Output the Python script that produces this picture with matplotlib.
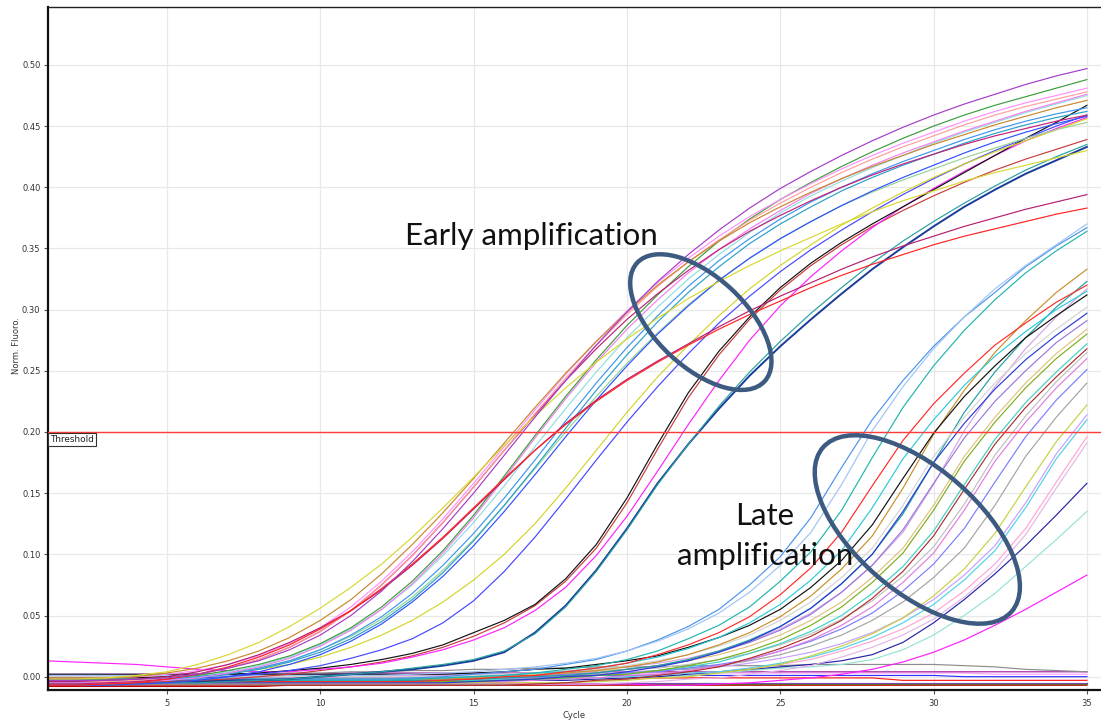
import matplotlib
matplotlib.use("Agg")
import matplotlib.pyplot as plt
from matplotlib.patches import Ellipse
from matplotlib.transforms import IdentityTransform
from matplotlib.ticker import FormatStrFormatter, MultipleLocator

cycles = list(range(1, 36))
threshold = 0.20

# ---- wells amplifying early (normalised fluorescence per cycle 1..35) ----
early_purple = [-0.003,-0.003,-0.003,-0.002,-0.001,0.002,0.007,0.013,0.022,0.034,0.050,0.070,0.094,0.121,0.150,0.181,0.212,0.242,0.271,0.298,0.323,0.345,0.365,0.383,0.399,0.413,0.426,0.438,0.449,0.459,0.468,0.476,0.484,0.491,0.497]
early_green = [-0.002,-0.002,-0.002,-0.002,-0.001,0.001,0.005,0.010,0.017,0.027,0.040,0.057,0.078,0.103,0.132,0.164,0.197,0.229,0.259,0.287,0.312,0.335,0.356,0.374,0.390,0.404,0.417,0.429,0.440,0.450,0.459,0.467,0.474,0.481,0.488]
early_pink = [-0.001,-0.001,-0.001,0.000,0.002,0.005,0.010,0.017,0.027,0.040,0.057,0.078,0.102,0.129,0.158,0.188,0.218,0.247,0.274,0.299,0.322,0.342,0.360,0.376,0.390,0.403,0.415,0.426,0.436,0.445,0.454,0.462,0.469,0.475,0.481]
early_salmon = [-0.004,-0.004,-0.004,-0.003,-0.001,0.002,0.007,0.014,0.024,0.037,0.054,0.075,0.099,0.126,0.155,0.185,0.215,0.244,0.271,0.296,0.319,0.339,0.357,0.373,0.387,0.400,0.412,0.423,0.433,0.442,0.451,0.459,0.466,0.472,0.478]
early_aqua = [-0.002,-0.002,-0.002,-0.002,-0.001,0.001,0.004,0.009,0.016,0.026,0.039,0.055,0.075,0.099,0.126,0.156,0.188,0.219,0.249,0.277,0.302,0.325,0.345,0.363,0.379,0.393,0.405,0.416,0.426,0.436,0.445,0.453,0.461,0.468,0.475]
early_brown = [-0.001,-0.001,-0.001,0.000,0.003,0.007,0.013,0.021,0.032,0.046,0.063,0.084,0.108,0.134,0.162,0.191,0.220,0.248,0.274,0.298,0.320,0.339,0.356,0.371,0.384,0.396,0.407,0.417,0.426,0.435,0.443,0.451,0.458,0.465,0.471]
early_black = [-0.001,-0.001,-0.001,-0.001,0.000,0.001,0.002,0.003,0.005,0.007,0.010,0.014,0.019,0.026,0.036,0.046,0.059,0.080,0.108,0.146,0.190,0.232,0.266,0.294,0.318,0.338,0.355,0.370,0.384,0.398,0.412,0.426,0.440,0.453,0.467]
early_skyblue = [-0.003,-0.003,-0.003,-0.003,-0.002,0.000,0.003,0.007,0.013,0.022,0.034,0.049,0.068,0.091,0.117,0.146,0.177,0.209,0.240,0.269,0.295,0.319,0.340,0.358,0.374,0.388,0.400,0.411,0.421,0.430,0.439,0.447,0.454,0.460,0.465]
early_cerulean = [-0.005,-0.005,-0.005,-0.004,-0.003,-0.001,0.002,0.006,0.012,0.020,0.031,0.045,0.063,0.085,0.111,0.140,0.171,0.203,0.234,0.263,0.290,0.314,0.335,0.354,0.370,0.384,0.397,0.408,0.418,0.427,0.436,0.444,0.451,0.457,0.462]
early_blue = [-0.002,-0.002,-0.002,-0.002,-0.002,-0.001,0.000,0.002,0.005,0.009,0.015,0.022,0.031,0.044,0.062,0.086,0.114,0.145,0.177,0.208,0.237,0.264,0.289,0.311,0.331,0.349,0.365,0.380,0.394,0.407,0.419,0.430,0.440,0.450,0.459]
early_plum = [-0.006,-0.006,-0.005,-0.004,-0.002,0.002,0.007,0.014,0.024,0.037,0.054,0.075,0.099,0.126,0.155,0.185,0.214,0.242,0.268,0.292,0.313,0.332,0.349,0.364,0.377,0.389,0.400,0.410,0.419,0.427,0.435,0.442,0.448,0.454,0.459]
early_yellow = [-0.003,-0.003,-0.003,-0.002,-0.001,0.001,0.003,0.006,0.010,0.016,0.024,0.034,0.046,0.061,0.079,0.100,0.125,0.154,0.185,0.216,0.245,0.271,0.295,0.317,0.336,0.353,0.369,0.383,0.396,0.408,0.419,0.429,0.438,0.447,0.456]
early_mint = [-0.004,-0.004,-0.004,-0.003,-0.002,0.000,0.003,0.007,0.013,0.022,0.033,0.047,0.065,0.087,0.112,0.140,0.170,0.200,0.229,0.256,0.281,0.304,0.324,0.342,0.358,0.372,0.385,0.396,0.406,0.415,0.424,0.432,0.440,0.447,0.453]
early_magenta = [0.013,0.012,0.011,0.010,0.008,0.006,0.005,0.004,0.004,0.006,0.008,0.011,0.016,0.022,0.030,0.040,0.054,0.073,0.099,0.131,0.168,0.206,0.242,0.275,0.303,0.327,0.348,0.367,0.384,0.399,0.413,0.426,0.438,0.448,0.457]
early_brick = [-0.005,-0.005,-0.005,-0.005,-0.004,-0.003,-0.002,0.000,0.002,0.005,0.008,0.012,0.017,0.024,0.033,0.044,0.058,0.078,0.105,0.142,0.186,0.228,0.263,0.292,0.316,0.336,0.353,0.368,0.381,0.393,0.404,0.414,0.423,0.431,0.439]
early_teal = [-0.006,-0.006,-0.006,-0.006,-0.005,-0.005,-0.004,-0.003,-0.002,0.000,0.002,0.004,0.007,0.010,0.014,0.021,0.035,0.057,0.086,0.120,0.157,0.190,0.221,0.249,0.274,0.297,0.318,0.338,0.356,0.372,0.387,0.401,0.414,0.425,0.435]
early_navy = [-0.004,-0.004,-0.004,-0.004,-0.004,-0.004,-0.003,-0.003,-0.002,0.000,0.002,0.004,0.006,0.009,0.013,0.020,0.036,0.058,0.087,0.121,0.158,0.190,0.219,0.246,0.270,0.292,0.313,0.333,0.351,0.368,0.384,0.398,0.411,0.422,0.433]
early_gold = [-0.002,-0.002,-0.001,0.001,0.004,0.010,0.018,0.028,0.041,0.056,0.073,0.092,0.114,0.138,0.163,0.189,0.213,0.236,0.257,0.276,0.293,0.309,0.323,0.336,0.348,0.359,0.370,0.380,0.389,0.397,0.405,0.412,0.418,0.424,0.430]
early_wine = [-0.004,-0.004,-0.003,-0.002,0.000,0.004,0.010,0.018,0.028,0.040,0.054,0.071,0.091,0.113,0.137,0.161,0.185,0.207,0.226,0.243,0.258,0.272,0.286,0.299,0.311,0.322,0.333,0.343,0.352,0.360,0.368,0.375,0.382,0.388,0.394]
early_red = [-0.007,-0.007,-0.006,-0.005,-0.002,0.002,0.008,0.016,0.026,0.039,0.054,0.072,0.092,0.114,0.138,0.162,0.185,0.206,0.225,0.242,0.257,0.271,0.284,0.296,0.307,0.318,0.328,0.337,0.345,0.353,0.360,0.366,0.372,0.378,0.383]
early_orchid = [-0.005,-0.005,-0.005,-0.004,-0.003,-0.001,0.003,0.008,0.015,0.025,0.038,0.055,0.076,0.101,0.130,0.162,0.195,0.227,0.257,0.284,0.308,0.330,0.349,0.366,0.381,0.395,0.407,0.418,0.428,0.437,0.446,0.454,0.462,0.469,0.476]
early_royal = [-0.007,-0.007,-0.007,-0.006,-0.005,-0.003,0.000,0.004,0.010,0.018,0.029,0.043,0.061,0.082,0.107,0.135,0.165,0.196,0.226,0.254,0.280,0.303,0.324,0.342,0.358,0.372,0.385,0.397,0.408,0.418,0.428,0.437,0.445,0.452,0.458]

# ---- wells amplifying late ----
late_lightblue = [0.001,0.001,0.001,0.001,0.001,0.001,0.001,0.001,0.001,0.001,0.001,0.001,0.002,0.003,0.004,0.006,0.008,0.011,0.015,0.021,0.029,0.039,0.052,0.069,0.091,0.118,0.157,0.201,0.237,0.268,0.294,0.317,0.336,0.353,0.370]
late_blue = [-0.002,-0.002,-0.002,-0.002,-0.002,-0.002,-0.002,-0.002,-0.002,-0.002,-0.002,-0.002,-0.001,0.000,0.002,0.004,0.006,0.010,0.014,0.021,0.030,0.041,0.055,0.075,0.098,0.130,0.171,0.210,0.242,0.270,0.294,0.314,0.335,0.352,0.367]
late_teal = [-0.003,-0.003,-0.003,-0.003,-0.003,-0.003,-0.003,-0.003,-0.003,-0.003,-0.003,-0.003,-0.002,-0.001,0.000,0.001,0.003,0.006,0.009,0.014,0.021,0.031,0.042,0.057,0.078,0.102,0.136,0.179,0.220,0.254,0.283,0.308,0.330,0.348,0.364]
late_red = [-0.004,-0.004,-0.004,-0.004,-0.004,-0.004,-0.004,-0.004,-0.004,-0.004,-0.004,-0.004,-0.004,-0.003,-0.002,0.000,0.001,0.004,0.007,0.011,0.018,0.026,0.036,0.049,0.067,0.089,0.118,0.156,0.193,0.223,0.248,0.271,0.289,0.306,0.320]
late_cyan = [-0.002,-0.002,-0.002,-0.002,-0.002,-0.002,-0.002,-0.002,-0.002,-0.002,-0.002,-0.002,-0.002,-0.001,0.000,0.001,0.003,0.004,0.007,0.011,0.016,0.023,0.032,0.044,0.059,0.079,0.103,0.138,0.178,0.210,0.238,0.262,0.282,0.300,0.315]
late_black = [0.002,0.002,0.002,0.002,0.002,0.002,0.002,0.002,0.002,0.002,0.002,0.002,0.002,0.002,0.003,0.004,0.006,0.007,0.010,0.013,0.017,0.024,0.032,0.042,0.055,0.073,0.095,0.124,0.162,0.199,0.229,0.254,0.277,0.295,0.312]
late_brown = [-0.002,-0.002,-0.002,-0.002,-0.002,-0.002,-0.002,-0.002,-0.002,-0.002,-0.002,-0.002,-0.002,-0.002,-0.001,0.000,0.001,0.003,0.005,0.008,0.012,0.018,0.026,0.036,0.049,0.066,0.088,0.115,0.154,0.198,0.234,0.265,0.291,0.314,0.333]
late_lightgray = [0.000,0.000,0.000,0.000,0.000,0.000,0.000,0.000,0.000,0.000,0.000,0.000,0.000,0.000,0.001,0.002,0.003,0.005,0.006,0.009,0.013,0.018,0.025,0.034,0.046,0.061,0.081,0.105,0.140,0.180,0.212,0.240,0.264,0.284,0.302]
late_royal = [-0.005,-0.005,-0.005,-0.005,-0.005,-0.005,-0.005,-0.005,-0.005,-0.005,-0.005,-0.005,-0.005,-0.005,-0.004,-0.003,-0.002,0.000,0.001,0.004,0.008,0.013,0.020,0.029,0.041,0.056,0.076,0.100,0.135,0.175,0.207,0.235,0.259,0.279,0.297]
late_teal2 = [-0.003,-0.003,-0.003,-0.003,-0.003,-0.003,-0.003,-0.003,-0.003,-0.003,-0.003,-0.003,-0.003,-0.003,-0.002,-0.001,0.000,0.001,0.003,0.006,0.009,0.014,0.021,0.030,0.041,0.056,0.076,0.100,0.133,0.175,0.216,0.249,0.277,0.302,0.323]
late_lavender = [-0.002,-0.002,-0.002,-0.002,-0.002,-0.002,-0.002,-0.002,-0.002,-0.002,-0.002,-0.002,-0.002,-0.002,-0.002,-0.001,0.000,0.002,0.003,0.006,0.009,0.013,0.020,0.028,0.038,0.051,0.069,0.091,0.120,0.158,0.195,0.225,0.250,0.273,0.291]
late_lilac = [0.001,0.001,0.001,0.001,0.001,0.001,0.001,0.001,0.001,0.001,0.001,0.001,0.001,0.001,0.001,0.002,0.003,0.004,0.006,0.008,0.011,0.015,0.021,0.029,0.039,0.052,0.069,0.091,0.118,0.157,0.201,0.237,0.268,0.294,0.317]
late_olive = [-0.004,-0.004,-0.004,-0.004,-0.004,-0.004,-0.004,-0.004,-0.004,-0.004,-0.004,-0.004,-0.004,-0.004,-0.004,-0.003,-0.002,-0.001,0.001,0.002,0.005,0.009,0.014,0.021,0.030,0.042,0.057,0.077,0.101,0.136,0.176,0.208,0.236,0.260,0.280]
late_tan = [0.000,0.000,0.000,0.000,0.000,0.000,0.000,0.000,0.000,0.000,0.000,0.000,0.000,0.000,0.000,0.001,0.002,0.003,0.005,0.006,0.009,0.013,0.018,0.025,0.034,0.046,0.061,0.081,0.105,0.140,0.180,0.212,0.240,0.264,0.284]
late_aqua = [-0.003,-0.003,-0.003,-0.003,-0.003,-0.003,-0.003,-0.003,-0.003,-0.003,-0.003,-0.003,-0.003,-0.003,-0.003,-0.003,-0.002,-0.001,0.001,0.002,0.005,0.008,0.012,0.019,0.027,0.037,0.050,0.068,0.090,0.119,0.157,0.194,0.224,0.249,0.272]
late_darkred = [-0.007,-0.007,-0.007,-0.007,-0.007,-0.007,-0.007,-0.007,-0.007,-0.007,-0.007,-0.007,-0.007,-0.007,-0.007,-0.007,-0.006,-0.005,-0.003,-0.002,0.001,0.004,0.008,0.015,0.023,0.033,0.046,0.064,0.086,0.115,0.153,0.190,0.220,0.245,0.268]
late_gray = [0.001,0.001,0.001,0.001,0.001,0.001,0.001,0.001,0.001,0.001,0.001,0.001,0.001,0.001,0.001,0.001,0.002,0.003,0.004,0.006,0.007,0.010,0.014,0.019,0.026,0.035,0.047,0.062,0.082,0.106,0.141,0.181,0.213,0.241,0.265]
late_orchid = [-0.004,-0.004,-0.004,-0.004,-0.004,-0.004,-0.004,-0.004,-0.004,-0.004,-0.004,-0.004,-0.004,-0.004,-0.004,-0.004,-0.003,-0.002,-0.001,0.001,0.002,0.005,0.009,0.014,0.021,0.030,0.042,0.057,0.077,0.101,0.136,0.176,0.208,0.236,0.260]
late_periwinkle = [-0.001,-0.001,-0.001,-0.001,-0.001,-0.001,-0.001,-0.001,-0.001,-0.001,-0.001,-0.001,-0.001,-0.001,-0.001,-0.001,-0.001,0.000,0.001,0.003,0.004,0.007,0.010,0.014,0.021,0.029,0.039,0.052,0.070,0.092,0.121,0.159,0.196,0.226,0.251]
late_silver = [0.000,0.000,0.000,0.000,0.000,0.000,0.000,0.000,0.000,0.000,0.000,0.000,0.000,0.000,0.000,0.000,0.000,0.001,0.002,0.003,0.005,0.006,0.009,0.013,0.018,0.025,0.034,0.046,0.061,0.081,0.105,0.140,0.180,0.212,0.240]
late_chartreuse = [-0.005,-0.005,-0.005,-0.005,-0.005,-0.005,-0.005,-0.005,-0.005,-0.005,-0.005,-0.005,-0.005,-0.005,-0.005,-0.005,-0.005,-0.005,-0.004,-0.003,-0.001,0.000,0.003,0.006,0.010,0.017,0.025,0.035,0.048,0.066,0.088,0.117,0.155,0.192,0.222]
late_sky = [-0.002,-0.002,-0.002,-0.002,-0.002,-0.002,-0.002,-0.002,-0.002,-0.002,-0.002,-0.002,-0.002,-0.002,-0.002,-0.002,-0.002,-0.002,-0.001,0.000,0.001,0.003,0.004,0.007,0.011,0.016,0.023,0.032,0.044,0.059,0.079,0.103,0.138,0.178,0.210]
late_violet = [0.002,0.002,0.002,0.002,0.002,0.002,0.002,0.002,0.002,0.002,0.002,0.002,0.002,0.002,0.002,0.002,0.002,0.002,0.003,0.004,0.005,0.007,0.008,0.011,0.015,0.020,0.027,0.036,0.048,0.063,0.083,0.107,0.142,0.182,0.214]
late_rose = [-0.001,-0.001,-0.001,-0.001,-0.001,-0.001,-0.001,-0.001,-0.001,-0.001,-0.001,-0.001,-0.001,-0.001,-0.001,-0.001,-0.001,-0.001,-0.001,0.000,0.001,0.003,0.004,0.007,0.010,0.014,0.021,0.029,0.039,0.052,0.070,0.092,0.121,0.159,0.196]
late_thistle = [-0.006,-0.006,-0.006,-0.006,-0.006,-0.006,-0.006,-0.006,-0.006,-0.006,-0.006,-0.006,-0.006,-0.006,-0.006,-0.006,-0.006,-0.006,-0.006,-0.005,-0.004,-0.002,-0.001,0.002,0.005,0.009,0.016,0.024,0.034,0.047,0.065,0.087,0.116,0.154,0.191]
late_navy = [-0.003,-0.003,-0.003,-0.003,-0.003,-0.003,-0.003,-0.003,-0.003,-0.003,-0.003,-0.003,-0.003,-0.003,-0.003,-0.003,-0.003,-0.003,-0.002,-0.001,0.000,0.002,0.004,0.006,0.008,0.010,0.013,0.018,0.028,0.044,0.063,0.084,0.107,0.132,0.158]
late_paleteal = [-0.002,-0.002,-0.002,-0.002,-0.002,-0.002,-0.002,-0.002,-0.002,-0.002,-0.002,-0.002,-0.002,-0.002,-0.002,-0.002,-0.002,-0.002,-0.002,-0.001,0.000,0.001,0.003,0.005,0.007,0.008,0.010,0.014,0.022,0.034,0.050,0.068,0.090,0.112,0.135]
late_magenta = [-0.004,-0.004,-0.004,-0.004,-0.004,-0.004,-0.004,-0.004,-0.004,-0.004,-0.004,-0.004,-0.004,-0.004,-0.004,-0.005,-0.006,-0.006,-0.006,-0.006,-0.007,-0.007,-0.006,-0.005,-0.003,-0.001,0.002,0.006,0.012,0.020,0.030,0.042,0.055,0.069,0.083]

# ---- wells without amplification ----
flat_gray = [-0.001,-0.001,0.000,0.000,0.001,0.001,0.002,0.002,0.003,0.003,0.004,0.004,0.005,0.005,0.006,0.006,0.007,0.007,0.008,0.008,0.008,0.009,0.009,0.009,0.009,0.010,0.010,0.010,0.010,0.010,0.009,0.008,0.006,0.005,0.004]
flat_purple = [0.001,0.001,0.001,0.001,0.001,0.002,0.002,0.002,0.002,0.002,0.003,0.003,0.003,0.003,0.003,0.003,0.003,0.004,0.004,0.004,0.004,0.004,0.004,0.004,0.004,0.004,0.004,0.004,0.004,0.004,0.004,0.004,0.004,0.004,0.004]
flat_pink = [0.002,0.002,0.002,0.002,0.002,0.002,0.002,0.002,0.002,0.002,0.002,0.002,0.002,0.002,0.002,0.002,0.002,0.002,0.002,0.002,0.003,0.003,0.003,0.003,0.003,0.003,0.003,0.003,0.003,0.003,0.003,0.002,0.002,0.002,0.002]
flat_blue = [0.001,0.001,0.001,0.001,0.001,0.001,0.001,0.001,0.001,0.001,0.001,0.001,0.001,0.001,0.001,0.001,0.001,0.001,0.001,0.001,0.001,0.001,0.001,0.001,0.001,0.001,0.001,0.001,0.001,0.001,0.000,0.000,0.000,0.000,0.000]
flat_red = [-0.001,-0.001,-0.001,-0.001,-0.001,-0.001,-0.001,-0.001,-0.001,-0.001,-0.001,-0.001,-0.001,-0.001,-0.001,-0.001,-0.001,-0.001,-0.001,-0.001,-0.001,-0.001,-0.001,-0.001,-0.001,-0.001,-0.001,-0.001,-0.003,-0.003,-0.003,-0.003,-0.003,-0.003,-0.003]
flat_violet = [-0.005,-0.005,-0.005,-0.005,-0.005,-0.005,-0.005,-0.005,-0.005,-0.005,-0.005,-0.005,-0.005,-0.005,-0.005,-0.005,-0.005,-0.005,-0.005,-0.005,-0.005,-0.005,-0.005,-0.005,-0.005,-0.005,-0.005,-0.005,-0.005,-0.005,-0.005,-0.005,-0.005,-0.005,-0.005]
flat_green = [-0.006,-0.006,-0.006,-0.006,-0.006,-0.006,-0.006,-0.006,-0.006,-0.006,-0.006,-0.006,-0.006,-0.006,-0.006,-0.006,-0.006,-0.006,-0.006,-0.006,-0.006,-0.006,-0.006,-0.006,-0.006,-0.006,-0.006,-0.006,-0.006,-0.006,-0.006,-0.006,-0.006,-0.006,-0.006]
flat_crimson = [-0.008,-0.008,-0.008,-0.008,-0.008,-0.008,-0.008,-0.008,-0.007,-0.007,-0.007,-0.007,-0.007,-0.007,-0.007,-0.007,-0.007,-0.007,-0.007,-0.007,-0.007,-0.007,-0.007,-0.007,-0.007,-0.007,-0.007,-0.007,-0.007,-0.007,-0.007,-0.007,-0.007,-0.007,-0.007]

flat_wells = [
    (flat_violet, "#8040c0"), (flat_green, "#30a030"), (flat_crimson, "#c00000"),
    (flat_red, "#ff1a1a"), (flat_blue, "#3030ff"), (flat_pink, "#ffa0ff"),
    (flat_purple, "#a020a0"), (flat_gray, "#8c8c8c"),
]
late_wells = [
    (late_magenta, "#ff1cff"), (late_paleteal, "#94e2d4"), (late_navy, "#2424a8"),
    (late_thistle, "#e6b4e6"), (late_rose, "#ffa4d4"), (late_violet, "#c4a0ff"),
    (late_sky, "#50d2e4"), (late_chartreuse, "#c8d040"), (late_silver, "#a4a4a4"),
    (late_periwinkle, "#7c7cff"), (late_orchid, "#e07ce0"), (late_gray, "#c0c0c0"),
    (late_darkred, "#b02e2e"), (late_aqua, "#3ed2c2"), (late_tan, "#e0c27e"),
    (late_olive, "#7cae1e"), (late_lilac, "#d4a4e4"), (late_lavender, "#9a78dc"),
    (late_teal2, "#1e9e9e"), (late_royal, "#2a3cd4"), (late_lightgray, "#d4d4d4"),
    (late_brown, "#c8902a"), (late_black, "#111111"), (late_cyan, "#2ccad8"),
    (late_red, "#ff2a2a"), (late_teal, "#22b4ae"), (late_blue, "#4a94ec"),
    (late_lightblue, "#a0c4f4"),
]
early_wells = [
    (early_navy, "#1a3c9a"), (early_teal, "#28a0a0"), (early_brick, "#c83c3c"),
    (early_magenta, "#ff22ff"), (early_black, "#111111"), (early_blue, "#4646ff"),
    (early_yellow, "#d4d42a"), (early_mint, "#96d296"), (early_royal, "#3050ff"),
    (early_cerulean, "#2aa0c8"), (early_skyblue, "#3c96f0"), (early_aqua, "#90dede"),
    (early_orchid, "#f080f0"), (early_green, "#3c9c3c"), (early_plum, "#c0207a"),
    (early_salmon, "#ff9e9e"), (early_pink, "#ff90ff"), (early_brown, "#c8882c"),
    (early_wine, "#b4206e"), (early_red, "#ff2222"), (early_gold, "#d8d830"),
    (early_purple, "#a43cc8"),
]

fig = plt.figure(figsize=(11.01, 7.22), dpi=100)
ax = fig.add_axes([0.0433, 0.0443, 0.9567, 0.9456])

for values, colour in flat_wells + late_wells + early_wells:
    lw = 1.4 if colour == "#1a3c9a" else 0.85
    ax.plot(cycles[:len(values)], values, color=colour, lw=lw, solid_joinstyle="round")

ax.axhline(threshold, color="#ff3c3c", lw=1.0, zorder=3)
ax.annotate("Threshold", xy=(0, threshold), xycoords=("axes fraction", "data"),
            xytext=(2.0, -2.4), textcoords="offset points", ha="left", va="top",
            fontsize=6.4, color="#222222",
            bbox=dict(boxstyle="square,pad=0.22", fc="white", ec="#333333", lw=0.8),
            zorder=4)

ax.set_xlim(1.11, 35.46)
ax.set_ylim(-0.0109, 0.5471)
ax.xaxis.set_major_locator(MultipleLocator(5))
ax.yaxis.set_major_locator(MultipleLocator(0.05))
ax.yaxis.set_major_formatter(FormatStrFormatter("%.2f"))
ax.grid(True, color="#e8e8e8", lw=0.9)
ax.set_axisbelow(True)
ax.tick_params(axis="both", labelsize=6, colors="#555555", labelcolor="#333333",
               length=3.2, width=0.8, pad=2)
ax.tick_params(axis="x", pad=3.5)

for side in ("left", "bottom"):
    ax.spines[side].set_linewidth(1.6)
    ax.spines[side].set_color("#111111")
ax.spines["top"].set_linewidth(1.0)
ax.spines["top"].set_color("#222222")
ax.spines["right"].set_visible(False)

ax.set_xlabel("Cycle", fontsize=6, color="#333333", labelpad=2)
fig.text(0.015, 0.5215, "Norm. Fluoro.", rotation=90, fontsize=6,
         color="#333333", ha="center", va="center")

label_style = dict(fontsize=22.5, family="Lato", color="#111111", ha="center", va="baseline")
ax.text(16.89, 0.3527, "Early amplification", **label_style)
ax.text(24.48, 0.1239, "Late", **label_style)
ax.text(24.50, 0.0913, "amplification", **label_style)

# outline rings drawn in pixel space so they stay true ellipses
ring_colour = "#3d5b80"
for (cx, cy), w, h, ang in [((22.41, 0.2898), 174, 90, -43),
                            ((29.47, 0.1203), 250, 123, -41)]:
    px, py = ax.transData.transform((cx, cy))
    ax.add_patch(Ellipse((px, py), w, h, angle=ang, transform=IdentityTransform(),
                         fill=False, ec=ring_colour, lw=3.2, zorder=5))

fig.savefig("out.png", dpi=100)
